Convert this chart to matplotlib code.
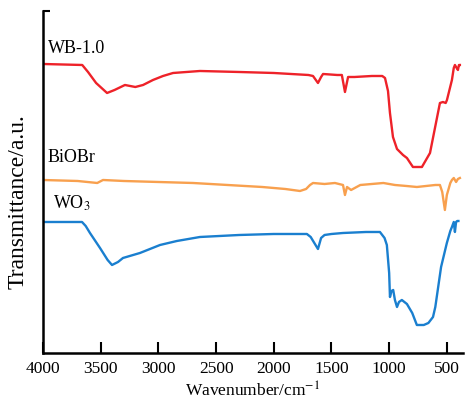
import numpy as np
import matplotlib.pyplot as plt

# FTIR spectra (offset transmittance, arbitrary units)
wb_wn = [4000, 3660, 3610, 3540, 3445, 3380, 3290, 3200, 3133, 3047, 2960, 2873, 2640, 2300,
         2000, 1700, 1660, 1617, 1590, 1573, 1450, 1410, 1383, 1356, 1300, 1150, 1060, 1036,
         1010, 993, 967, 932, 880, 846, 794, 716, 646, 603, 560, 534, 510, 499, 456, 440, 430, 415, 404, 395, 387]
wb_t = [289, 288, 281, 270, 260, 263, 268, 266, 268, 273, 277, 280, 282, 281,
        280, 278, 277, 270, 276, 279, 278, 278, 261, 276, 276, 277, 277, 275,
        262, 240, 216, 204, 198, 195, 186, 186, 200, 225, 250, 251, 250, 253, 273, 285, 288, 285, 283, 288, 288]

bi_wn = [4000, 3700, 3530, 3480, 3300, 3000, 2700, 2400, 2100, 1900, 1773, 1720, 1686, 1660, 1560, 1470,
         1400, 1383, 1365, 1330, 1250, 1150, 1050, 950, 850, 760, 680, 600, 560, 540, 517, 500, 470, 456, 440, 420, 404, 387]
bi_t = [173, 172, 170, 173, 172, 171, 170, 168, 166, 164, 162, 164, 168, 170, 169, 170,
        168, 158, 166, 163, 168, 169, 170, 168, 167, 166, 167, 168, 168, 161, 143, 158, 170, 173, 175, 171, 174, 175]

wo_wn = [4000, 3662, 3630, 3593, 3506, 3440, 3402, 3350, 3307, 3160, 2986, 2840, 2640, 2300, 2000,
         1713, 1680, 1617, 1590, 1560, 1500, 1400, 1200, 1080, 1040, 1020, 1000, 993, 980, 965, 950,
         932, 915, 890, 846, 800, 760, 700, 660, 620, 600, 550, 500, 470, 456, 440, 430, 420, 410, 400]
wo_t = [131, 131, 127, 120, 105, 93, 88, 91, 95, 100, 108, 112, 116, 118, 119,
        119, 116, 104, 115, 118, 119, 120, 121, 121, 115, 108, 80, 56, 62, 63, 53,
        46, 51, 53, 49, 40, 28, 28, 30, 36, 46, 86, 110, 122, 126, 131, 121, 131, 132, 132]

labels = ['WB-1.0', 'BiOBr', 'WO$_3$']
colors = ['#ee2229', '#f8a04e', '#1a7fcf']

plt.rcParams['font.family'] = ['Liberation Serif', 'DejaVu Serif']
plt.rcParams['mathtext.fontset'] = 'stix'

fig = plt.figure(figsize=(4.65, 4.07), dpi=100)
ax = fig.add_axes([0.0925, 0.1327, 0.9032, 0.8403])

for wn, t, c in zip([wb_wn, bi_wn, wo_wn], [wb_t, bi_t, wo_t], colors):
    ax.plot(wn, t, color=c, linewidth=1.7)

ax.set_xlim(4000, 360)
ax.set_ylim(0, 342)

# Sample labels
ax.text(3960, 304, labels[0], fontsize=13, va='center')
ax.text(3960, 195, labels[1], fontsize=13, va='center')
ax.text(3910, 150, labels[2], fontsize=13, va='center')

ax.set_xticks([4000, 3500, 3000, 2500, 2000, 1500, 1000, 500])
ax.set_yticks([342])
ax.set_yticklabels([''])
ax.tick_params(axis='x', direction='in', length=8, width=1.5, labelsize=12.5, pad=6)
ax.tick_params(axis='y', direction='in', length=5, width=1.5)

for side in ['top', 'right']:
    ax.spines[side].set_visible(False)
for side in ['left', 'bottom']:
    ax.spines[side].set_linewidth(1.8)

ax.set_xlabel('Wavenumber/cm$^{-1}$', fontsize=12.5, labelpad=3)
ax.set_ylabel('Transmittance/a.u.', fontsize=17)
ax.yaxis.set_label_coords(-0.035, 0.444)

fig.savefig('out.png', dpi=100)
